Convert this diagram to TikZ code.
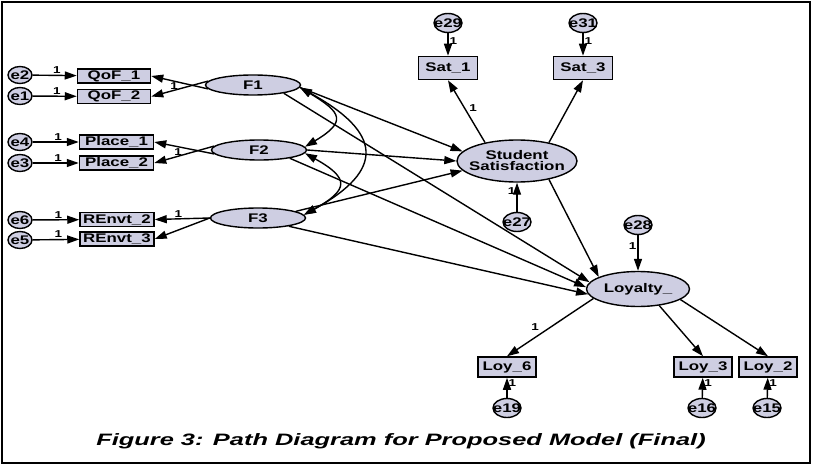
\documentclass[tikz,border=0pt]{standalone}
\usepackage{fontspec}
\setmainfont{Liberation Sans}[FakeStretch=1.35]
\newfontfamily\capfont{Liberation Sans}[FakeStretch=1.54]
\usetikzlibrary{shapes.geometric,arrows.meta}

\definecolor{amosfill}{RGB}{206,206,226}
\newcommand\ename[1]{\makebox[0pt]{#1}}

\tikzset{
  obs/.style={draw, line width=1.5pt, fill=amosfill, rectangle, inner sep=0pt,
    font=\fontsize{12.5}{13}\selectfont\bfseries},
  lat/.style={draw, line width=1.4pt, fill=amosfill, ellipse, inner sep=0pt,
    font=\fontsize{12.5}{13}\selectfont\bfseries},
  err/.style={draw, line width=1.4pt, fill=amosfill, ellipse, inner sep=0pt,
    minimum width=28pt, minimum height=19pt, font=\fontsize{12.5}{12}\selectfont\bfseries},
  errl/.style={err, minimum width=24pt, minimum height=17pt},
  reg/.style={line width=1.4pt, -{Triangle[length=12pt,width=8pt]}},
  cov/.style={line width=1.4pt, {Triangle[length=12pt,width=8pt]}-{Triangle[length=12pt,width=8pt]}},
  one/.style={font=\fontsize{10}{10}\selectfont\bfseries, inner sep=1pt},
}

\begin{document}
\begin{tikzpicture}[x=1pt, y=-1pt]
  \useasboundingbox (0,0) rectangle (813,468);
  \draw[line width=1.8pt] (2,2) rectangle (810,463);

  % indicators of the three factors
  \node[errl] (e2) at (20,75) {\ename{e2}};
  \node[errl] (e1) at (20,96) {\ename{e1}};
  \node[errl] (e4) at (20,142) {\ename{e4}};
  \node[errl] (e3) at (20,163) {\ename{e3}};
  \node[errl] (e6) at (20,220) {\ename{e6}};
  \node[errl] (e5) at (20,240) {\ename{e5}};
  \node[obs, minimum width=73pt, minimum height=14pt] (QoF1) at (114,76) {QoF\_1};
  \node[obs, minimum width=73pt, minimum height=14pt] (QoF2) at (114,96.5) {QoF\_2};
  \node[obs, minimum width=74pt, minimum height=14pt] (Place1) at (116.5,142) {Place\_1};
  \node[obs, minimum width=74pt, minimum height=14pt] (Place2) at (116.5,163) {Place\_2};
  \node[obs, minimum width=74pt, minimum height=14pt] (REnvt2) at (117,219.5) {REnvt\_2};
  \node[obs, minimum width=74pt, minimum height=14pt] (REnvt3) at (117,239) {REnvt\_3};

  % factors
  \node[lat, minimum width=95pt, minimum height=20pt] (F1) at (253,85) {F1};
  \node[lat, minimum width=95pt, minimum height=20pt] (F2) at (259,150) {F2};
  \node[lat, minimum width=95pt, minimum height=20pt] (F3) at (258,218) {F3};

  % student satisfaction
  \node[err] (e29) at (448,23) {\ename{e29}};
  \node[err] (e31) at (583,23) {\ename{e31}};
  \node[obs, minimum width=59pt, minimum height=23pt] (Sat1) at (448,68) {Sat\_1};
  \node[obs, minimum width=59pt, minimum height=23pt] (Sat3) at (583,68) {Sat\_3};
  \node[lat, minimum width=120pt, minimum height=42pt, align=center, inner xsep=-14pt] (SS) at (517,161) {Student\\[-2pt]Satisfaction};
  \node[err] (e27) at (517,222) {\ename{e27}};

  % loyalty
  \node[err] (e28) at (638,225) {\ename{e28}};
  \node[lat, minimum width=103pt, minimum height=35pt] (Loy) at (638,289) {Loyalty\_};
  \node[obs, minimum width=58pt, minimum height=20pt] (Loy6) at (507,367) {Loy\_6};
  \node[obs, minimum width=58pt, minimum height=20pt] (Loy3) at (703,367) {Loy\_3};
  \node[obs, minimum width=58pt, minimum height=20pt] (Loy2) at (768,367) {Loy\_2};
  \node[err] (e19) at (507,408) {\ename{e19}};
  \node[err] (e16) at (702,408) {\ename{e16}};
  \node[err] (e15) at (767,408) {\ename{e15}};

  \node[font=\capfont\fontsize{16.5}{18}\selectfont\bfseries\itshape] (cap) at (401,441)
    {Figure 3: Path Diagram for Proposed Model (Final)};

  % error terms
  \draw[reg] (e2) -- node[one, pos=0.55, above] {1} (QoF1);
  \draw[reg] (e1) -- node[one, pos=0.55, above] {1} (QoF2);
  \draw[reg] (e4) -- node[one, pos=0.55, above] {1} (Place1);
  \draw[reg] (e3) -- node[one, pos=0.55, above] {1} (Place2);
  \draw[reg] (e6) -- node[one, pos=0.55, above] {1} (REnvt2);
  \draw[reg] (e5) -- node[one, pos=0.55, above] {1} (REnvt3);
  \draw[reg] (e29) -- node[one, pos=0.35, right] {1} (Sat1);
  \draw[reg] (e31) -- node[one, pos=0.35, right] {1} (Sat3);
  \draw[reg] (e27) -- node[one, pos=0.7, left] {1} (SS);
  \draw[reg] (e28) -- node[one, pos=0.3, left] {1} (Loy);
  \draw[reg] (e19) -- node[one, pos=0.75, right] {1} (Loy6);
  \draw[reg] (e16) -- node[one, pos=0.75, right] {1} (Loy3);
  \draw[reg] (e15) -- node[one, pos=0.75, right] {1} (Loy2);

  % loadings
  \draw[reg] (F1.185) -- node[one, pos=0.6, below] {1} (QoF1.east);
  \draw[reg] (F1.175) -- (QoF2.east);
  \draw[reg] (F2.185) -- node[one, pos=0.6, below] {1} (Place1.east);
  \draw[reg] (F2.175) -- (Place2.east);
  \draw[reg] (F3.west) -- node[one, pos=0.57, above] {1} (REnvt2.east);
  \draw[reg] (F3.west) -- (REnvt3.east);
  \draw[reg] (SS.150) -- node[one, pos=0.55, right=3pt] {1} (Sat1.south);
  \draw[reg] (SS.30) -- (Sat3.south);
  \draw[reg] (Loy.-168) -- node[one, pos=0.6, above left=1pt] {1} (Loy6.north);
  \draw[reg] (Loy.-38) -- (Loy3.north);
  \draw[reg] (Loy.-14) -- (Loy2.north);

  % structural paths
  \draw[reg] (F1.-3) -- (SS.170);
  \draw[reg] (F2.east) -- (SS.west);
  \draw[reg] (F3.10) -- (SS.190);
  \draw[reg] (F1.-15) -- (Loy.172);
  \draw[reg] (F2.-15) -- (Loy.178);
  \draw[reg] (F3.-15) -- (Loy.186);
  \draw[reg] (SS.-30) -- (Loy.163);

  % covariances
  \draw[cov] (F1.-3) .. controls +(42,25) and +(42,-25) .. (F2.4);
  \draw[cov] (F2.-4) .. controls +(45,25) and +(45,-25) .. (F3.4);
  \draw[cov] (F1.-3) .. controls +(82,45) and +(82,-45) .. (F3.4);
\end{tikzpicture}
\end{document}
